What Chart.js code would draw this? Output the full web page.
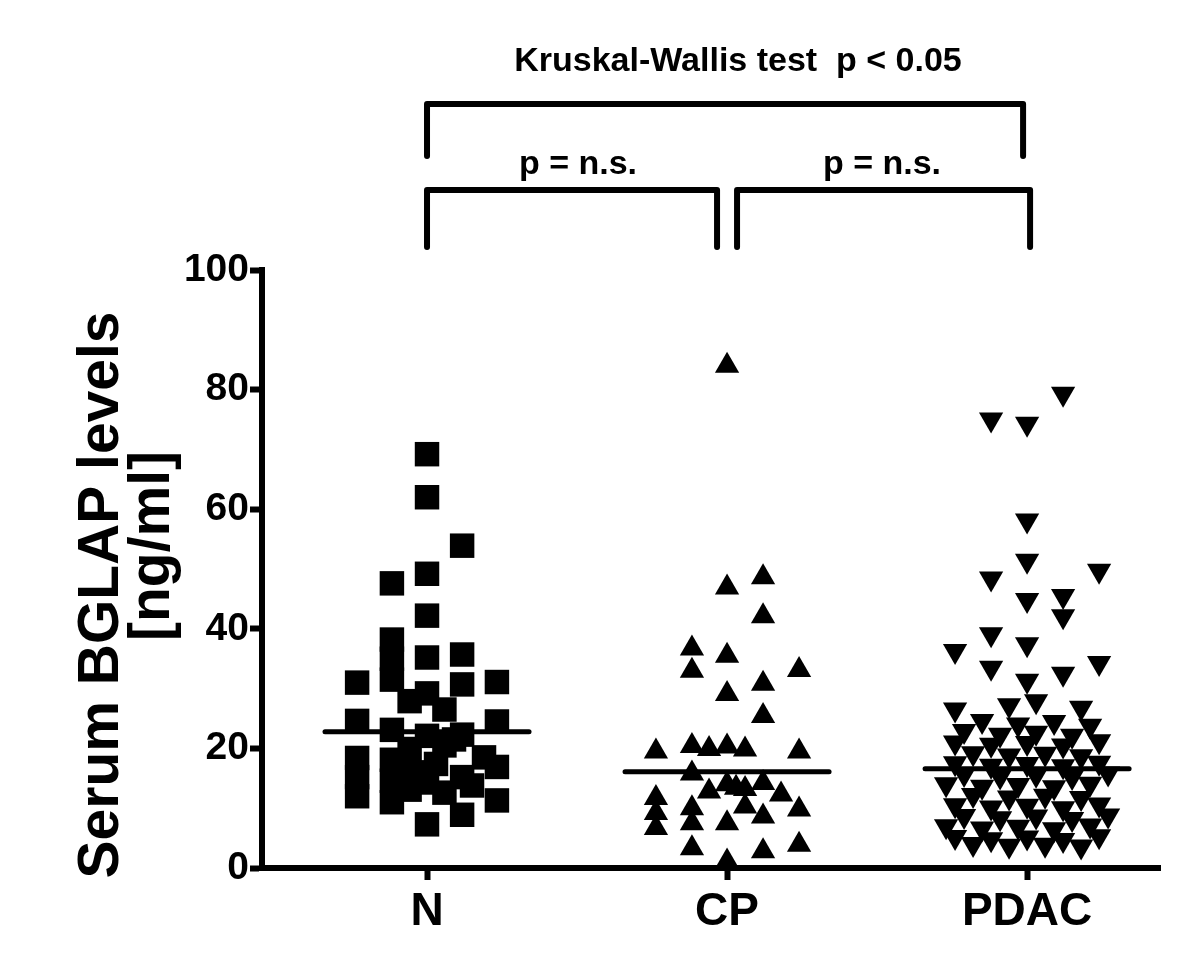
<!DOCTYPE html>
<html>
<head>
<meta charset="utf-8">
<script src="https://cdn.jsdelivr.net/npm/chart.js@4"></script>
<style>
  html, body { margin: 0; padding: 0; background: #fff; }
  #wrap { width: 1200px; height: 972px; }
</style>
</head>
<body>
<div id="wrap"><canvas id="chart"></canvas></div>
<script>
const categories = ['N', 'CP', 'PDAC'];
const yTicks = [0, 20, 40, 60, 80, 100];
const groupMeans = [22.8, 16.1, 16.6];

// N group (squares)
const nValues = [69.2, 62.0, 53.9, 49.2, 47.6, 42.2, 38.2, 35.0, 31.5, 35.2, 35.7, 30.7, 31.0, 31.1,
    27.9, 29.2, 26.5, 24.6, 24.5, 23.1, 22.1, 22.3, 19.9, 20.5, 18.4, 15.2, 12.0, 18.1, 14.6, 11.0,
    18.5, 16.9, 14.3, 15.2, 13.1, 12.6, 11.3, 8.9, 7.3, 17.4, 16.0, 13.8, 21.5, 16.8];
const nOffsets = [0, 0, 0.117, 0, -0.117, 0, -0.117, -0.117, -0.117, 0, 0.117, 0.117, -0.233, 0.233,
    -0.058, 0, 0.058, -0.233, 0.233, -0.117, 0, 0.117, -0.058, 0.058, -0.233, -0.233, -0.233, -0.117, -0.117, -0.117,
    0.19, 0.233, 0, 0.117, -0.058, 0.058, 0.233, 0.117, 0, 0.03, -0.03, 0.15, 0.09, -0.088];

// CP group (triangles)
const cpValues = [84.0, 46.9, 48.6, 42.1, 36.7, 33.0, 35.5, 33.1, 30.8, 29.1, 25.4, 19.5, 20.4, 19.9,
    20.3, 19.8, 19.5, 15.8, 12.8, 14.0, 13.2, 14.2, 12.3, 10.3, 11.7, 9.2, 6.7, 10.0, 7.5, 8.6, 9.8,
    7.5, 3.3, 2.8, 3.9, 1.1, 13.4];
const cpOffsets = [0, 0, 0.12, 0.12, -0.117, -0.117, 0, 0.24, 0.12, 0, 0.12, -0.237, -0.117, -0.06,
    0, 0.06, 0.24, -0.117, -0.06, 0, 0.06, 0.12, 0.18, 0.06, -0.237, -0.237, -0.237, -0.117, -0.117, 0.12, 0.24,
    0, -0.117, 0.12, 0.24, 0, 0.03];

// PDAC group (inverted triangles)
const pdacValues = [79.3, 75.0, 74.3, 58.1, 51.4, 49.7, 48.4, 44.8, 45.5, 42.1, 39.1, 36.3, 37.4, 34.3,
    33.5, 32.5, 31.3, 26.5, 27.2, 27.9, 26.8,
    24.6, 24.0, 24.4, 23.8,
    22.9, 22.3, 22.6, 22.1,
    21.0, 20.6, 20.9, 20.5, 21.2,
    19.2, 18.8, 19.1, 18.7,
    17.5, 17.1, 17.4, 17.0, 17.6,
    15.7, 15.3, 15.6, 15.2, 15.8,
    14.0, 13.6, 13.9, 13.5, 14.1,
    12.2, 11.8, 12.1, 11.7,
    10.5, 10.1, 10.4, 10.0, 10.6,
    8.7, 8.3, 8.6, 8.2, 8.8,
    7.0, 6.6, 6.9, 6.5, 7.1,
    5.2, 4.8, 5.1, 4.7, 5.3,
    4.0, 3.7, 3.9, 3.6];
const pdacOffsets = [0.12, -0.12, 0, 0, 0, 0.24, -0.12, 0, 0.12, 0.12, -0.12, -0.24, 0, 0.24,
    -0.12, 0.12, 0, -0.24, -0.06, 0.03, 0.18,
    -0.15, -0.03, 0.09, 0.21,
    -0.21, -0.09, 0.03, 0.15,
    -0.24, -0.12, 0, 0.12, 0.24,
    -0.18, -0.06, 0.06, 0.18,
    -0.24, -0.12, 0, 0.12, 0.24,
    -0.21, -0.09, 0.03, 0.15, 0.27,
    -0.27, -0.15, -0.03, 0.09, 0.21,
    -0.18, -0.06, 0.06, 0.18,
    -0.24, -0.12, 0, 0.12, 0.24,
    -0.21, -0.09, 0.03, 0.15, 0.27,
    -0.27, -0.15, -0.03, 0.09, 0.21,
    -0.24, -0.12, 0, 0.12, 0.24,
    -0.18, -0.06, 0.06, 0.18];

const FONT = '"Liberation Sans", Arial, sans-serif';

function toPoints(values, offsets, group) {
    return values.map((v, i) => ({ x: group + offsets[i], y: v }));
}

const meanLines = groupMeans.map((m, i) => ({
    type: 'line',
    data: [{ x: i + 1 - 0.34, y: m }, { x: i + 1 + 0.34, y: m }],
    borderColor: '#000',
    borderWidth: 5,
    borderCapStyle: 'round',
    pointRadius: 0,
    showLine: true,
    clip: false
}));

const annotations = {
    id: 'annotations',
    afterDraw(chart) {
        const ctx = chart.ctx;
        const xs = chart.scales.x;
        const xN = xs.getPixelForValue(1);
        const xCP = xs.getPixelForValue(2);
        const xP = xs.getPixelForValue(3);
        ctx.save();
        ctx.strokeStyle = '#000';
        ctx.lineWidth = 6;
        ctx.lineCap = 'round';
        ctx.lineJoin = 'round';
        const bracket = (x1, x2, yTop, yBot) => {
            ctx.beginPath();
            ctx.moveTo(x1, yBot);
            ctx.lineTo(x1, yTop);
            ctx.lineTo(x2, yTop);
            ctx.lineTo(x2, yBot);
            ctx.stroke();
        };
        bracket(xN, xP - 4, 104, 156);
        bracket(xN, xCP - 10, 190, 247);
        bracket(xCP + 10, xP + 3, 190, 247);

        ctx.fillStyle = '#000';
        ctx.textAlign = 'center';
        ctx.textBaseline = 'middle';
        ctx.font = 'bold 34px ' + FONT;
        ctx.fillText('Kruskal-Wallis test  p < 0.05', 738, 62);
        ctx.fillText('p = n.s.', 578, 165);
        ctx.fillText('p = n.s.', 882, 165);

        ctx.font = 'bold 57px ' + FONT;
        ctx.translate(102, 595);
        ctx.rotate(-Math.PI / 2);
        ctx.fillText('Serum BGLAP levels', 0, 0);
        ctx.rotate(Math.PI / 2);
        ctx.translate(51, -49);
        ctx.rotate(-Math.PI / 2);
        ctx.fillText('[ng/ml]', 0, 0);
        ctx.restore();
    }
};

new Chart(document.getElementById('chart'), {
    type: 'scatter',
    data: {
        datasets: [
            {
                data: toPoints(nValues, nOffsets, 1),
                pointStyle: 'rect',
                radius: 17.3,
                backgroundColor: '#000',
                borderWidth: 0,
                clip: false
            },
            {
                data: toPoints(cpValues, cpOffsets, 2),
                pointStyle: 'triangle',
                radius: 14,
                backgroundColor: '#000',
                borderWidth: 0,
                clip: false
            },
            {
                data: toPoints(pdacValues, pdacOffsets, 3),
                pointStyle: 'triangle',
                rotation: 180,
                radius: 14,
                backgroundColor: '#000',
                borderWidth: 0,
                clip: false
            },
            ...meanLines
        ]
    },
    options: {
        responsive: true,
        maintainAspectRatio: false,
        animation: false,
        layout: { padding: { top: 270, right: 40, left: 0, bottom: 0 } },
        plugins: {
            legend: { display: false },
            tooltip: { enabled: false }
        },
        scales: {
            x: {
                type: 'linear',
                min: 0.45,
                max: 3.443,
                afterBuildTicks: scale => {
                    scale.ticks = categories.map((c, i) => ({ value: i + 1 }));
                },
                afterFit: scale => { scale.height = 104; },
                ticks: {
                    callback: v => categories[v - 1],
                    color: '#000',
                    font: { family: FONT, size: 46, weight: 'bold' },
                    padding: 5,
                    maxRotation: 0
                },
                grid: { drawOnChartArea: false, tickLength: 12, tickWidth: 6, color: '#000' },
                border: { display: true, width: 6, color: '#000' }
            },
            y: {
                min: 0,
                max: 100,
                afterBuildTicks: scale => {
                    scale.ticks = yTicks.map(v => ({ value: v }));
                },
                afterFit: scale => { scale.width = 262; },
                ticks: {
                    color: '#000',
                    font: { family: FONT, size: 39, weight: 'bold' },
                    padding: 1
                },
                grid: { drawOnChartArea: false, tickLength: 12, tickWidth: 6, color: '#000' },
                border: { display: true, width: 6, color: '#000' }
            }
        }
    },
    plugins: [annotations]
});
</script>
</body>
</html>
